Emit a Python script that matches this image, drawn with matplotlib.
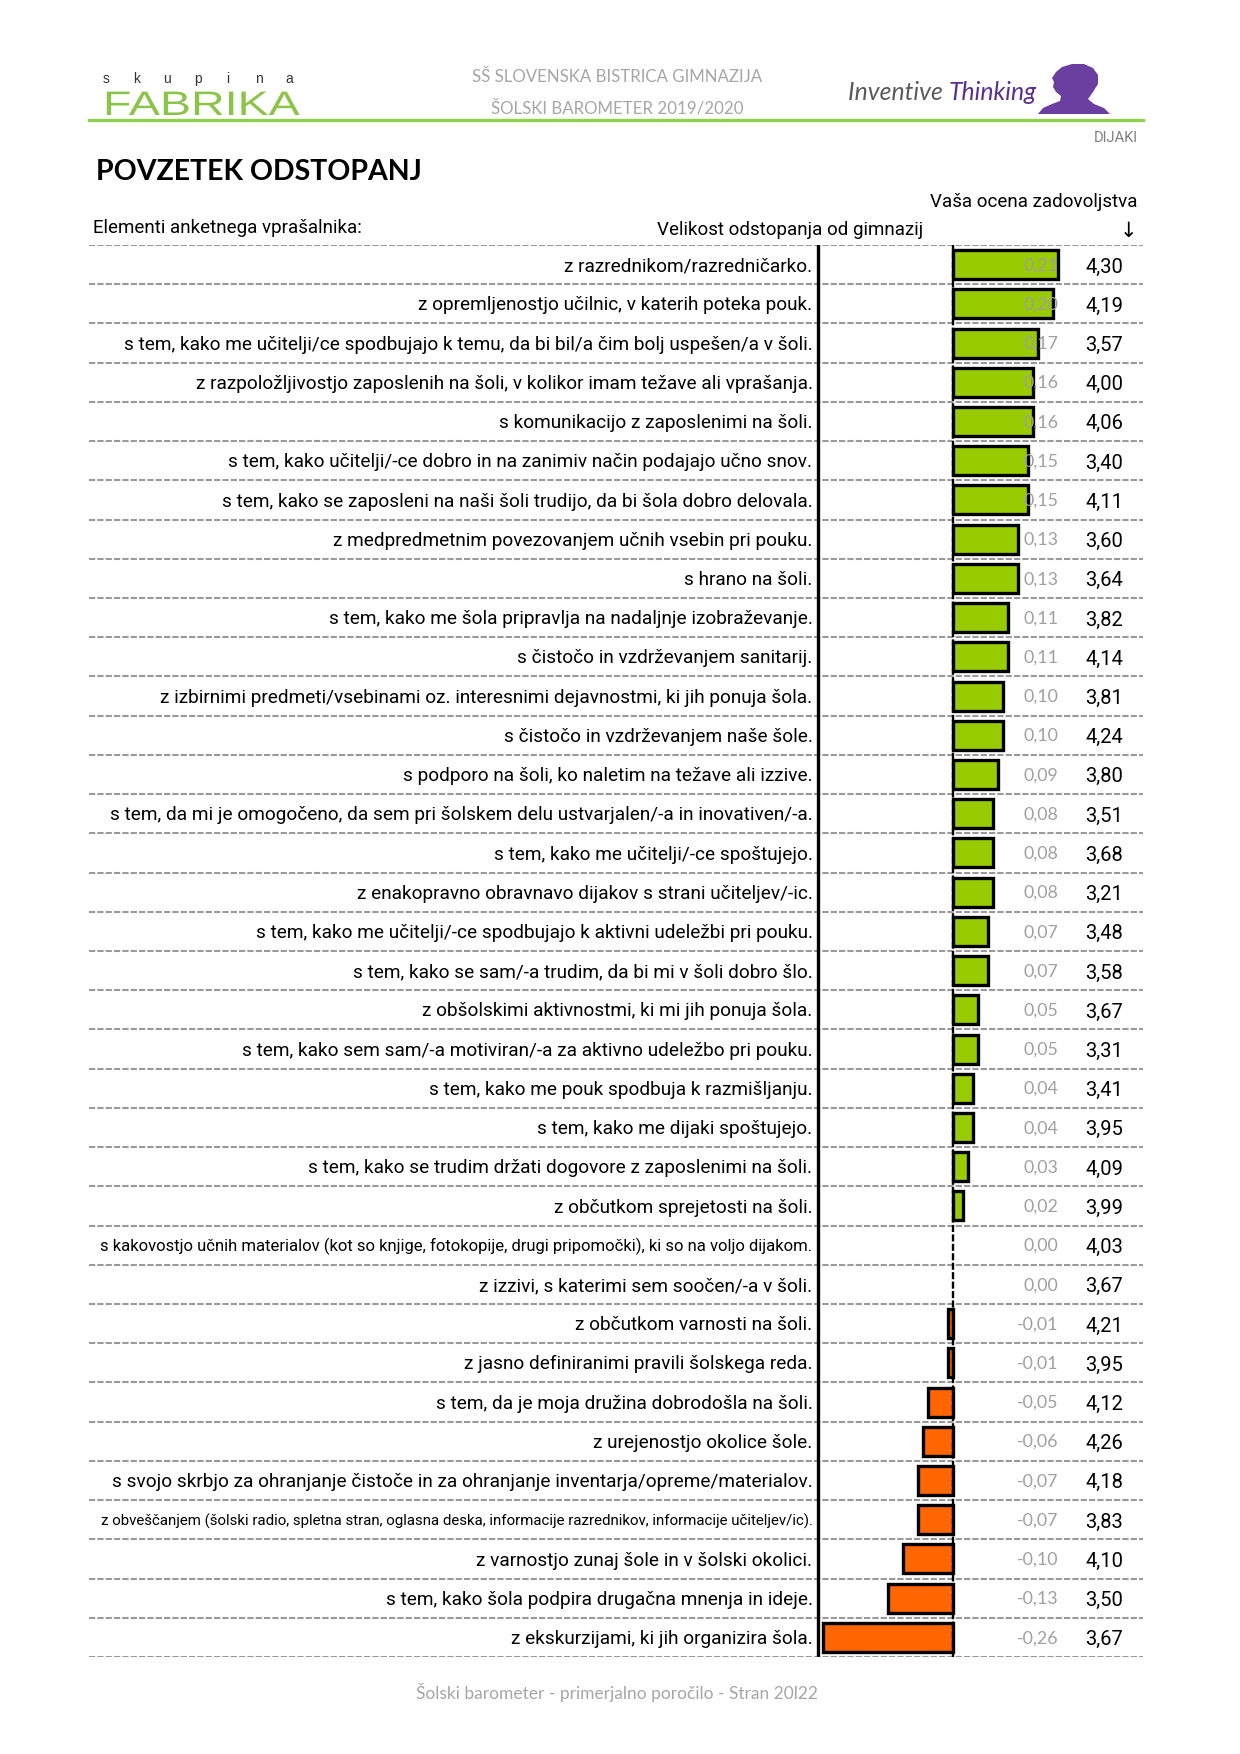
import numpy as np
import matplotlib
matplotlib.use('Agg')
import matplotlib.pyplot as plt
import matplotlib.transforms as mtransforms
from matplotlib.patches import Polygon, PathPatch
from matplotlib.textpath import TextPath
from matplotlib.font_manager import FontProperties

labels = [
    "z razrednikom/razredničarko.",
    "z opremljenostjo učilnic, v katerih poteka pouk.",
    "s tem, kako me učitelji/ce spodbujajo k temu, da bi bil/a čim bolj uspešen/a v šoli.",
    "z razpoložljivostjo zaposlenih na šoli, v kolikor imam težave ali vprašanja.",
    "s komunikacijo z zaposlenimi na šoli.",
    "s tem, kako učitelji/-ce dobro in na zanimiv način podajajo učno snov.",
    "s tem, kako se zaposleni na naši šoli trudijo, da bi šola dobro delovala.",
    "z medpredmetnim povezovanjem učnih vsebin pri pouku.",
    "s hrano na šoli.",
    "s tem, kako me šola pripravlja na nadaljnje izobraževanje.",
    "s čistočo in vzdrževanjem sanitarij.",
    "z izbirnimi predmeti/vsebinami oz. interesnimi dejavnostmi, ki jih ponuja šola.",
    "s čistočo in vzdrževanjem naše šole.",
    "s podporo na šoli, ko naletim na težave ali izzive.",
    "s tem, da mi je omogočeno, da sem pri šolskem delu ustvarjalen/-a in inovativen/-a.",
    "s tem, kako me učitelji/-ce spoštujejo.",
    "z enakopravno obravnavo dijakov s strani učiteljev/-ic.",
    "s tem, kako me učitelji/-ce spodbujajo k aktivni udeležbi pri pouku.",
    "s tem, kako se sam/-a trudim, da bi mi v šoli dobro šlo.",
    "z obšolskimi aktivnostmi, ki mi jih ponuja šola.",
    "s tem, kako sem sam/-a motiviran/-a za aktivno udeležbo pri pouku.",
    "s tem, kako me pouk spodbuja k razmišljanju.",
    "s tem, kako me dijaki spoštujejo.",
    "s tem, kako se trudim držati dogovore z zaposlenimi na šoli.",
    "z občutkom sprejetosti na šoli.",
    "s kakovostjo učnih materialov (kot so knjige, fotokopije, drugi pripomočki), ki so na voljo dijakom.",
    "z izzivi, s katerimi sem soočen/-a v šoli.",
    "z občutkom varnosti na šoli.",
    "z jasno definiranimi pravili šolskega reda.",
    "s tem, da je moja družina dobrodošla na šoli.",
    "z urejenostjo okolice šole.",
    "s svojo skrbjo za ohranjanje čistoče in za ohranjanje inventarja/opreme/materialov.",
    "z obveščanjem (šolski radio, spletna stran, oglasna deska, informacije razrednikov, informacije učiteljev/ic).",
    "z varnostjo zunaj šole in v šolski okolici.",
    "s tem, kako šola podpira drugačna mnenja in ideje.",
    "z ekskurzijami, ki jih organizira šola.",
]
deviations = [0.21, 0.20, 0.17, 0.16, 0.16, 0.15, 0.15, 0.13, 0.13, 0.11, 0.11, 0.10,
              0.10, 0.09, 0.08, 0.08, 0.08, 0.07, 0.07, 0.05, 0.05, 0.04, 0.04, 0.03,
              0.02, 0.00, 0.00, -0.01, -0.01, -0.05, -0.06, -0.07, -0.07, -0.10, -0.13, -0.26]
scores = [4.30, 4.19, 3.57, 4.00, 4.06, 3.40, 4.11, 3.60, 3.64, 3.82, 4.14, 3.81,
          4.24, 3.80, 3.51, 3.68, 3.21, 3.48, 3.58, 3.67, 3.31, 3.41, 3.95, 4.09,
          3.99, 4.03, 3.67, 4.21, 3.95, 4.12, 4.26, 4.18, 3.83, 4.10, 3.50, 3.67]

W, H = 1240, 1754
NARROW = ['Roboto', 'Liberation Sans', 'DejaVu Sans']
SOFT = ['Lato', 'DejaVu Sans']
GREEN_LINE = '#92d050'
GRAY = '#a6a6a6'


def fx(px):
    return px / W


def fy(py):
    return 1 - py / H


def fmt(v):
    return f"{v:.2f}".replace('.', ',')


fig = plt.figure(figsize=(W / 100, H / 100), dpi=100)

# --- page header ---
for k, ch in enumerate("skupina"):
    fig.text(fx(106 + k * 30.5), fy(79), ch, fontsize=10, color='#333333',
             family='Liberation Sans', ha='center', va='center')

logo = TextPath((0, 0), "FABRIKA", size=34, prop=FontProperties(family='Liberation Sans'))
logo_tr = mtransforms.Affine2D().scale(1.37, 1.0).translate(103, H - 115)
fig.add_artist(PathPatch(logo, transform=logo_tr, facecolor='#8cc44a', edgecolor='none'))

fig.add_artist(plt.Line2D([fx(89), fx(1143)], [fy(120), fy(120)], color=GREEN_LINE,
                          lw=2.4, transform=fig.transFigure))

fig.text(fx(617), fy(77), "SŠ SLOVENSKA BISTRICA GIMNAZIJA", fontsize=12.2, color=GRAY,
         family=SOFT, ha='center', va='center')
fig.text(fx(617), fy(108), "ŠOLSKI BAROMETER 2019/2020", fontsize=12.2, color=GRAY,
         family=SOFT, ha='center', va='center')

t1 = fig.text(fx(848), fy(92), "Inventive ", fontsize=17.8, color='#595959',
              family=SOFT, style='italic', ha='left', va='center')
fig.canvas.draw()
bb = t1.get_window_extent()
fig.text(bb.x1 / W, fy(92), "Thinking", fontsize=17.8, color='#5b2d90',
         family=SOFT, style='italic', ha='left', va='center')

# head silhouette (decorative)
head = [(1038, 114), (1043, 108), (1052, 104), (1060, 101), (1061, 96), (1056, 92),
        (1053, 87), (1054, 82), (1052, 78), (1056, 72), (1062, 67), (1072, 64),
        (1084, 64), (1093, 68), (1098, 75), (1098, 84), (1093, 92), (1088, 99),
        (1094, 104), (1104, 108), (1110, 114)]
fig.add_artist(Polygon([(fx(a), fy(b)) for a, b in head], closed=True,
                       facecolor='#6a3fa0', edgecolor='none', transform=fig.transFigure))

fig.text(fx(1138), fy(138), "DIJAKI", fontsize=10.5, color='#7f7f7f',
         family=NARROW, ha='right', va='center')

fig.text(fx(96), fy(172), "POVZETEK ODSTOPANJ", fontsize=20.5, weight='bold',
         color='black', family=SOFT, ha='left', va='center')
fig.text(fx(1137), fy(202), "Vaša ocena zadovoljstva", fontsize=13.5, color='black',
         family=NARROW, ha='right', va='center')
fig.text(fx(93), fy(228), "Elementi anketnega vprašalnika:", fontsize=13.5, color='black',
         family=NARROW, ha='left', va='center')
fig.text(fx(923), fy(230), "Velikost odstopanja od gimnazij", fontsize=13.5, color='black',
         family=NARROW, ha='right', va='center')
fig.text(fx(1128), fy(231), "↓", fontsize=15, color='black',
         family=['DejaVu Sans'], ha='center', va='center')

# --- chart ---
ax = fig.add_axes([fx(89), fy(1657), fx(1143) - fx(89), fy(245) - fy(1657)])
n = len(labels)
ypos = np.arange(n)
x_left, x_right = -1.728, 0.38
divider = -0.27

colors = ['#99cc00' if v > 0 else '#ff6600' for v in deviations]
lws = [0 if v == 0 else 2.4 for v in deviations]

ax.hlines(np.arange(n + 1) - 0.5, x_left, x_right, colors='#9a9a9a', linewidth=1.5,
          linestyles=(0, (3, 1)), zorder=1)
ax.barh(ypos, deviations, height=0.74, color=colors, edgecolor='black',
        linewidth=lws, zorder=3)
ax.axvline(0, color='black', lw=1.7, ls=(0, (3, 1)), zorder=4)
ax.axvline(divider, color='black', lw=2.4, zorder=4)
ax.set_xlim(x_left, x_right)
ax.set_ylim(n - 0.5, -0.5)
ax.axis('off')

renderer = fig.canvas.get_renderer()
max_w = 712
for i, lab in enumerate(labels):
    t = ax.text(divider - 0.011, i + 0.04, lab, fontsize=13.7, family=NARROW,
                ha='right', va='center', color='black', zorder=5)
    w = t.get_window_extent(renderer).width
    if w > max_w:
        t.set_fontsize(13.7 * max_w / w)
    ax.text(0.21, i + 0.02, fmt(deviations[i]), fontsize=12.8, family=SOFT,
            ha='right', va='center', color='#a0a0a0', zorder=6)
    ax.text(0.264, i + 0.06, fmt(scores[i]), fontsize=14.5, family=NARROW,
            ha='left', va='center', color='black', zorder=5)

# --- footer ---
fig.text(fx(617), fy(1692), "Šolski barometer - primerjalno poročilo - Stran 20l22",
         fontsize=12.5, color=GRAY, family=SOFT, ha='center', va='center')

fig.savefig('out.png', dpi=100)
